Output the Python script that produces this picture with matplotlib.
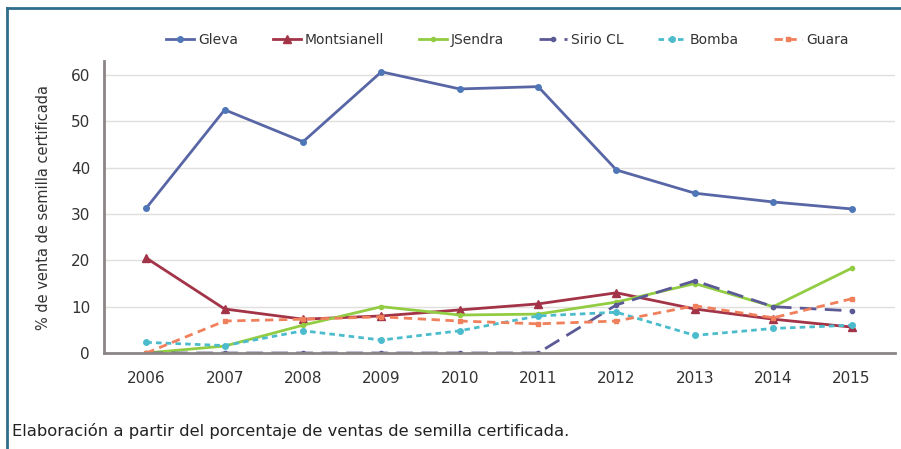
import matplotlib.pyplot as plt
from matplotlib.lines import Line2D

years = [2006, 2007, 2008, 2009, 2010, 2011, 2012, 2013, 2014, 2015]

gleva = [31.3, 52.5, 45.6, 60.7, 57.0, 57.5, 39.5, 34.5, 32.6, 31.1]
montsianell = [20.5, 9.5, 7.3, 8.0, 9.3, 10.6, 13.0, 9.5, 7.3, 5.6]
jsendra = [0.0, 1.5, 6.0, 10.0, 8.2, 8.4, 11.0, 15.0, 10.0, 18.3]
sirio = [0.0, 0.0, 0.0, 0.0, 0.0, 0.0, 10.4, 15.6, 10.0, 9.1]
bomba = [2.3, 1.6, 4.8, 2.8, 4.8, 8.0, 8.8, 3.8, 5.3, 6.0]
guara = [0.0, 6.9, 7.3, 7.8, 6.9, 6.3, 6.9, 10.2, 7.6, 11.7]

ytick_vals = [0, 10, 20, 30, 40, 50, 60]
ylabel = "% de venta de semilla certificada"
caption = "Elaboración a partir del porcentaje de ventas de semilla certificada."

fig = plt.figure(figsize=(9.01, 4.49), dpi=100)
ax = fig.add_axes([0.1154, 0.2138, 0.8776, 0.650])

x = list(range(len(years)))

ax.plot(x, gleva, color="#5866a6", lw=2, marker="o", ms=4, mfc="#4f77b8", mec="#4f77b8", label="Gleva")
ax.plot(x, montsianell, color="#a33347", lw=2, marker="^", ms=6, label="Montsianell")
ax.plot(x, jsendra, color="#92cc42", lw=2, marker="o", ms=3, label="JSendra")
ax.plot(x, sirio, color="#5c5a96", lw=2, ls=(0, (6, 3)), marker="o", ms=3, label="Sirio CL")
ax.plot(x, bomba, color="#4cbccc", lw=2, ls=(0, (2, 1.5)), marker="o", ms=4, label="Bomba")
ax.plot(x, guara, color="#f0805c", lw=2, ls=(0, (3, 2)), marker="s", ms=3, label="Guara")

ax.set_xlim(-0.54, 9.55)
ax.set_ylim(0, 63)
ax.set_xticks(x)
ax.set_xticklabels([str(y) for y in years])
ax.set_yticks(ytick_vals)
ax.tick_params(length=0, labelsize=11, labelcolor="#333333")
ax.tick_params(axis="x", pad=13)
ax.tick_params(axis="y", pad=10)
ax.yaxis.grid(True, color="#e2dedc", lw=1)
ax.set_axisbelow(True)
for s in ["top", "right"]:
    ax.spines[s].set_visible(False)
for s in ["left", "bottom"]:
    ax.spines[s].set_color("#8d8585")
    ax.spines[s].set_linewidth(2)
ax.set_ylabel(ylabel, fontsize=10.5, color="#333333", labelpad=14)

ax.legend(loc="center", bbox_to_anchor=(0.51, 1.073), ncol=6, frameon=False,
          fontsize=10, handlelength=2.0, columnspacing=2.5, handletextpad=0.3,
          labelcolor="#333333")

fig.text(0.013, 0.028, caption, fontsize=11.8, color="#222222",
         family=["Liberation Sans Narrow", "DejaVu Sans"])

# frame lines (top and left)
fig.add_artist(Line2D([0.008, 1.0], [0.983, 0.983], color="#2f6d8c", lw=2, transform=fig.transFigure))
fig.add_artist(Line2D([0.008, 0.008], [0.0, 0.983], color="#2f6d8c", lw=2, transform=fig.transFigure))

fig.savefig("out.png", dpi=100)
